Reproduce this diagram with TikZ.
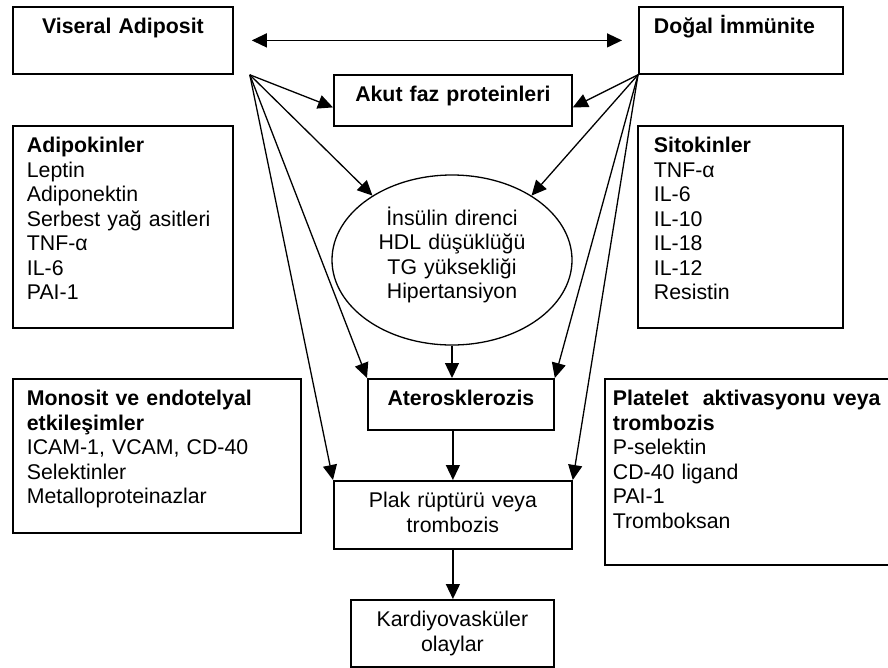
\documentclass[tikz,border=0pt]{standalone}
\usepackage{fontspec}
\setmainfont{Liberation Sans}
\usetikzlibrary{arrows.meta,shapes.geometric}

\begin{document}
\begin{tikzpicture}[x=1pt, y=-1pt, font=\fontsize{21.3pt}{24.5pt}\selectfont,
  box/.style={draw, line width=1.8pt, anchor=north west, inner ysep=0pt, text height=27pt},
  link/.style={line width=1.3pt, -{Triangle[length=15pt,width=14pt]}},
  dbl/.style={line width=1.3pt, {Triangle[length=15pt,width=14pt]}-{Triangle[length=15pt,width=14pt]}}]
\useasboundingbox (0,0) rectangle (888,667);
\clip (0,0) rectangle (888,667);

\node[box, inner xsep=14pt, text width=192pt, align=center, text depth=40pt] (vis) at (12,6) {\textbf{Viseral Adiposit}};
\node[box, inner xsep=15pt, text width=174pt, align=left, text depth=40pt] (dog) at (638,6) {\textbf{Doğal İmmünite}};
\node[box, inner xsep=10pt, text width=218pt, align=center, text depth=24pt] (akut) at (333,74) {\textbf{Akut faz proteinleri}};
\node[box, inner xsep=14pt, text width=192pt, align=left, text depth=175pt] (adi) at (12,125)
  {\textbf{Adipokinler}\\ Leptin\\ Adiponektin\\ Serbest yağ asitleri\\ TNF-α\\ IL-6\\ PAI-1};
\node[box, inner xsep=16pt, text width=173pt, align=left, text depth=175pt] (sit) at (637,125)
  {\textbf{Sitokinler}\\ TNF-α\\ IL-6\\ IL-10\\ IL-18\\ IL-12\\ Resistin};
\node[draw, ellipse, line width=1.3pt, minimum width=240pt, minimum height=170pt, inner sep=0pt,
  text width=160pt, align=center, text height=5pt, text depth=75pt] (ell) at (452,260)
  {İnsülin direnci\\ HDL düşüklüğü\\ TG yüksekliği\\ Hipertansiyon};
\node[box, inner xsep=10pt, text width=166pt, align=center, text depth=24pt] (ater) at (367,378) {\textbf{Aterosklerozis}};
\node[box, inner xsep=14pt, text width=260pt, align=left, text depth=127pt] (mono) at (12,378)
  {\textbf{Monosit ve endotelyal}\\ \textbf{etkileşimler}\\ ICAM-1, VCAM, CD-40\\ Selektinler\\ Metalloproteinazlar};
\node[box, inner xsep=8pt, text width=290pt, align=left, text depth=159pt] (plat) at (604,378)
  {\textbf{Platelet\ \ aktivasyonu veya}\\ \textbf{trombozis}\\ P-selektin\\ CD-40 ligand\\ PAI-1\\ Tromboksan};
\node[box, inner xsep=10pt, text width=218pt, align=center, text depth=41pt] (plak) at (333,480) {Plak rüptürü veya\\ trombozis};
\node[box, inner xsep=10pt, text width=183pt, align=center, text depth=40pt] (kard) at (350,599) {Kardiyovasküler\\ olaylar};

\coordinate (visout) at ([xshift=16pt]vis.south east);
\coordinate (dogout) at (dog.south west);

\draw[dbl, shorten <=18pt, shorten >=16pt] (vis) -- (dog);
\draw[link] (visout) -- ([yshift=-7pt]akut.west);
\draw[link] (dogout) -- ([yshift=-7pt]akut.east);
\draw[link] (visout) -- (ell.141);
\draw[link] (dogout) -- (ell.39);
\draw[link] (visout) -- (ater.north west);
\draw[link] (dogout) -- (ater.north east);
\draw[link] (visout) -- (plak.north west);
\draw[link] (dogout) -- (plak.north east);
\draw[link] (ell.south) -- (ell.south |- ater.north);
\draw[link] (plak.north |- ater.south) -- (plak.north);
\draw[link] (plak.south) -- (plak.south |- kard.north);
\end{tikzpicture}
\end{document}
